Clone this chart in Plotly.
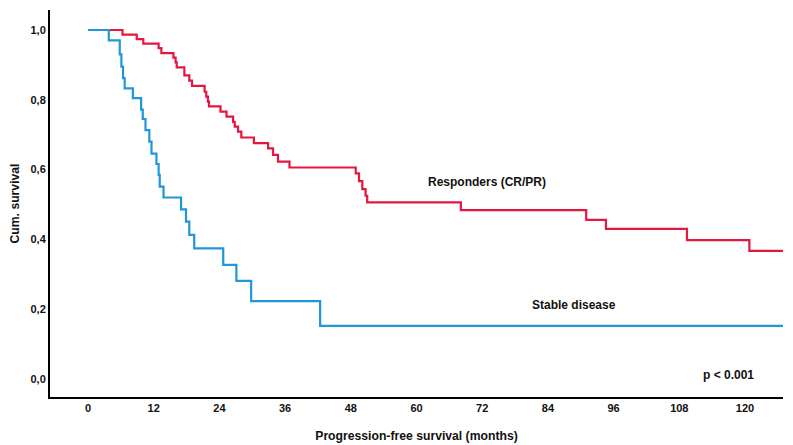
import plotly.graph_objects as go

# Responders (CR/PR) Kaplan-Meier steps
resp_time = [0, 6.3, 8.9, 10.1, 12.9, 13.4, 15.6, 16.0, 16.2, 17.6, 18.5, 19.0,
             21.3, 21.6, 21.9, 22.1, 24.2, 25.3, 26.5, 26.8, 27.4, 28.0, 30.3,
             32.9, 33.8, 34.7, 36.8, 48.9, 49.5, 50.1, 50.7, 51.0, 68.1, 91.0,
             94.6, 109.4, 120.8, 127.0]
resp_surv = [1.0, 0.987, 0.974, 0.961, 0.948, 0.934, 0.921, 0.907, 0.893, 0.870,
             0.855, 0.840, 0.823, 0.809, 0.795, 0.781, 0.766, 0.752, 0.737, 0.723,
             0.709, 0.692, 0.676, 0.661, 0.642, 0.623, 0.606, 0.589, 0.567, 0.544,
             0.525, 0.506, 0.484, 0.456, 0.430, 0.398, 0.367, 0.367]

# Stable disease Kaplan-Meier steps
sd_time = [0, 3.8, 5.8, 6.1, 6.4, 6.7, 8.2, 9.7, 10.0, 10.5, 11.2, 11.6, 12.5,
           12.9, 13.1, 13.8, 17.0, 17.9, 18.5, 19.4, 24.7, 27.1, 29.8, 42.4, 127.0]
sd_surv = [1.0, 0.970, 0.930, 0.895, 0.862, 0.833, 0.805, 0.772, 0.745, 0.713,
           0.680, 0.646, 0.616, 0.585, 0.551, 0.520, 0.486, 0.451, 0.413, 0.374,
           0.327, 0.281, 0.223, 0.152, 0.152]

x_ticks = [0, 12, 24, 36, 48, 60, 72, 84, 96, 108, 120]
y_ticks = [0.0, 0.2, 0.4, 0.6, 0.8, 1.0]

RED = "#e3173f"
BLUE = "#1f97d8"

fig = go.Figure()
fig.add_trace(go.Scatter(x=resp_time, y=resp_surv, mode="lines",
                         line=dict(color=RED, width=2.2, shape="hv"),
                         name="Responders (CR/PR)", showlegend=False))
fig.add_trace(go.Scatter(x=sd_time, y=sd_surv, mode="lines",
                         line=dict(color=BLUE, width=2.2, shape="hv"),
                         name="Stable disease", showlegend=False))

tick_font = dict(family="Liberation Sans Narrow, Arial Narrow, Liberation Sans, Arial",
                 size=11, color="#111", weight="bold")
title_font = dict(family="Liberation Sans Narrow, Arial Narrow, Liberation Sans, Arial",
                  size=12.2, color="#111", weight="bold")
ann_font = dict(family="Liberation Sans, Arial", size=12, color="#111", weight="bold")

fig.update_xaxes(range=[-6.94, 126.94], tickvals=x_ticks,
                 ticktext=[str(v) for v in x_ticks],
                 showline=True, linecolor="black", linewidth=2,
                 showgrid=False, zeroline=False, ticks="", ticklen=0,
                 tickfont=tick_font, automargin=False,
                 title=dict(text="Progression-free survival (months)",
                            font=title_font, standoff=18))
fig.update_yaxes(range=[-0.0516, 1.0573], tickvals=y_ticks,
                 ticktext=[f"{v:.1f}".replace(".", ",") for v in y_ticks],
                 showline=True, linecolor="black", linewidth=2,
                 showgrid=False, zeroline=False, ticks="", ticklen=0,
                 tickfont=tick_font, automargin=False,
                 title=dict(text="Cum. survival", font=title_font, standoff=10))

fig.add_annotation(x=72.9, y=0.564, text="Responders (CR/PR)", showarrow=False,
                   font=ann_font)
fig.add_annotation(x=88.8, y=0.212, text="Stable disease", showarrow=False,
                   font=ann_font)
fig.add_annotation(x=116.9, y=0.011, text="p < 0.001", showarrow=False,
                   font=ann_font)

# page body adds an 8px offset, so the figure is sized to compensate
fig.update_layout(width=785, height=437,
                  margin=dict(l=42, r=10, t=2, b=48),
                  plot_bgcolor="white", paper_bgcolor="white")

fig.write_html("out.html")
